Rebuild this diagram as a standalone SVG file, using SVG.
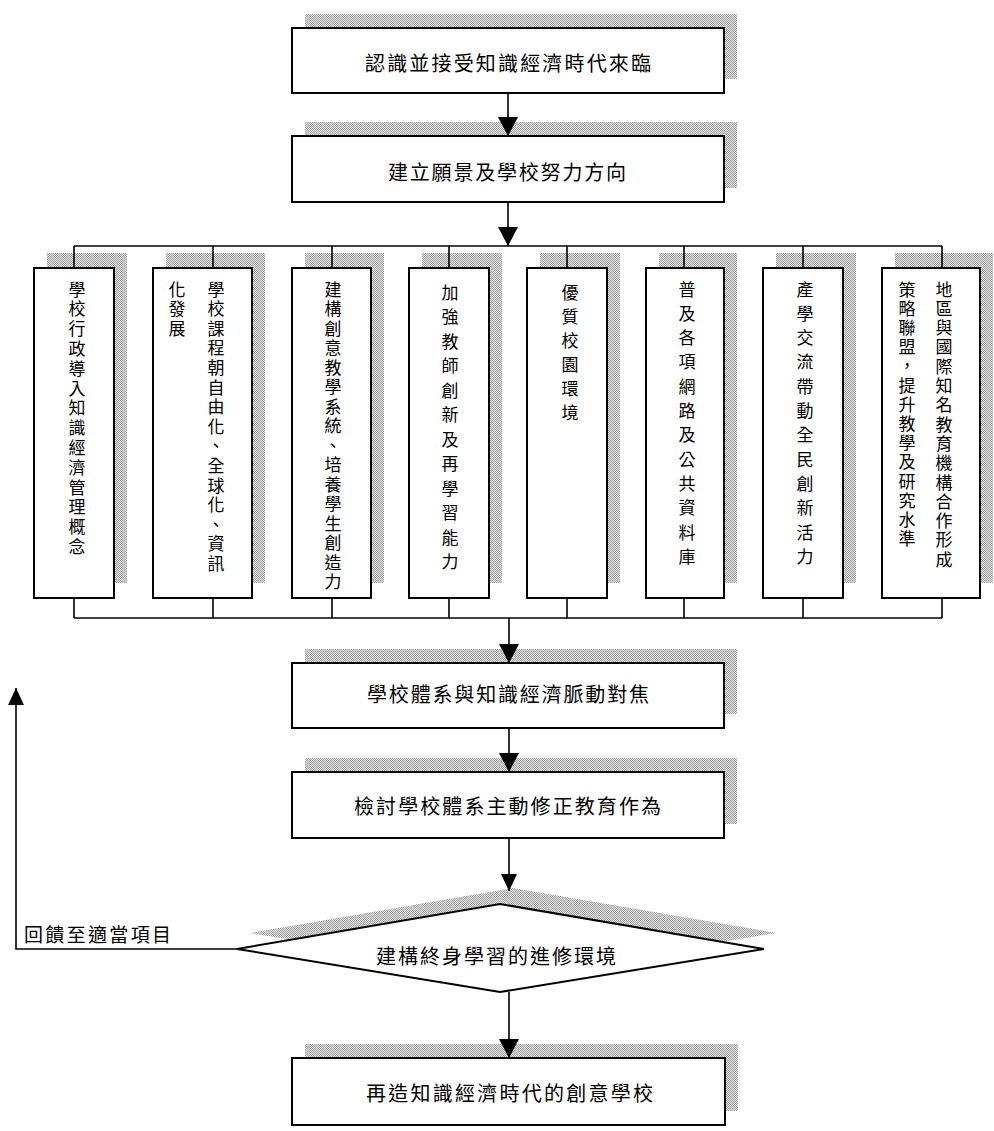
<svg xmlns="http://www.w3.org/2000/svg" width="994" height="1131" viewBox="0 0 994 1131">
<defs>
<pattern id="dither" width="2" height="2" patternUnits="userSpaceOnUse">
<rect width="2" height="2" fill="#e6e6e6"/>
<rect width="1" height="1" fill="#a0a0a0"/>
<rect x="1" y="1" width="1" height="1" fill="#a0a0a0"/>
</pattern>
<marker id="arr" markerUnits="userSpaceOnUse" markerWidth="20" markerHeight="20" refX="19" refY="10" orient="auto">
<path d="M0,0 L19,10 L0,20 Z" fill="#000"/>
</marker>
<marker id="arrs" markerUnits="userSpaceOnUse" markerWidth="18" markerHeight="16" refX="17" refY="8" orient="auto">
<path d="M0,0 L17,8 L0,16 Z" fill="#000"/>
</marker>
</defs>
<style>
.sh{fill:url(#dither);stroke:none}
.bx{fill:#fff;stroke:#000;stroke-width:2}
.ln{fill:none;stroke:#000;stroke-width:1.6}
.t{font-family:"Noto Sans CJK TC","Noto Sans CJK SC",sans-serif;fill:#000;dominant-baseline:central}
.h{font-size:20px}
.v{font-size:17px;text-anchor:middle}
</style>
<rect width="994" height="1131" fill="#fff"/>

<g id="n1">
<rect class="sh" x="305" y="14" width="432" height="65"/>
<rect class="bx" x="292" y="28" width="432" height="65"/>
<text class="t h" x="365" y="62" textLength="286" lengthAdjust="spacing">認識並接受知識經濟時代來臨</text>
</g>
<g id="n2">
<rect class="sh" x="305" y="122" width="432" height="66"/>
<rect class="bx" x="292" y="136" width="432" height="66"/>
<text class="t h" x="388" y="171" textLength="238" lengthAdjust="spacing">建立願景及學校努力方向</text>
</g>

<g id="a1">
<rect class="sh" x="47" y="253" width="80" height="330"/>
<rect class="bx" x="34" y="268" width="80" height="330"/>
<text class="t v" x="77 77 77 77 77 77 77 77 77 77 77 77 77 77" y="288 307.8 327.6 347.4 367.2 387 406.8 426.6 446.4 466.2 486 505.8 525.6 545.4">學校行政導入知識經濟管理概念</text>
</g>
<g id="a2">
<rect class="sh" x="166" y="253" width="99" height="330"/>
<rect class="bx" x="153" y="268" width="99" height="330"/>
<text class="t v" x="216 216 216 216 216 216 216 216 216 216 216 216 216 216 216" y="288 307.6 327.2 346.8 366.4 386 405.6 425.2 444.8 464.4 484 503.6 523.2 542.8 562.4">學校課程朝自由化、全球化、資訊</text>
<text class="t v" x="177 177 177" y="288 307.6 327.2">化發展</text>
</g>
<g id="a3">
<rect class="sh" x="305" y="253" width="79" height="330"/>
<rect class="bx" x="292" y="268" width="79" height="330"/>
<text class="t v" x="333 333 333 333 333 333 333 333 333 333 333 333 333 333 333 333" y="288 307.5 327 346.5 366 385.5 405 424.5 444 463.5 483 502.5 522 541.5 561 580.5">建構創意教學系統、培養學生創造力</text>
</g>
<g id="a4">
<rect class="sh" x="422" y="253" width="80" height="330"/>
<rect class="bx" x="409" y="268" width="80" height="330"/>
<text class="t v" x="450 450 450 450 450 450 450 450 450 450 450 450" y="291 315.5 340 364.5 389 413.5 438 462.5 487 511.5 536 560.5">加強教師創新及再學習能力</text>
</g>
<g id="a5">
<rect class="sh" x="540" y="253" width="80" height="330"/>
<rect class="bx" x="527" y="268" width="80" height="330"/>
<text class="t v" x="570 570 570 570 570 570" y="291 315 339 363 387 411">優質校園環境</text>
</g>
<g id="a6">
<rect class="sh" x="659" y="253" width="78" height="330"/>
<rect class="bx" x="646" y="268" width="78" height="330"/>
<text class="t v" x="687 687 687 687 687 687 687 687 687 687 687 687" y="288 312.3 336.6 360.9 385.2 409.5 433.8 458.1 482.4 506.7 531 555.3">普及各項網路及公共資料庫</text>
</g>
<g id="a7">
<rect class="sh" x="776" y="253" width="80" height="330"/>
<rect class="bx" x="763" y="268" width="80" height="330"/>
<text class="t v" x="805 805 805 805 805 805 805 805 805 805 805 805" y="288 312.3 336.6 360.9 385.2 409.5 433.8 458.1 482.4 506.7 531 555.3">產學交流帶動全民創新活力</text>
</g>
<g id="a8">
<rect class="sh" x="895" y="253" width="98" height="330"/>
<rect class="bx" x="882" y="268" width="98" height="330"/>
<text class="t v" x="944 944 944 944 944 944 944 944 944 944 944 944 944 944 944" y="288 307.3 326.6 345.9 365.2 384.5 403.8 423.1 442.4 461.7 481 500.3 519.6 538.9 558.2">地區與國際知名教育機構合作形成</text>
<text class="t v" x="907 907 907 907 907 907 907 907 907 907 907 907 907 907" y="288 307.2 326.4 345.6 364.8 384 403.2 422.4 441.6 460.8 480 499.2 518.4 537.6">策略聯盟，提升教學及研究水準</text>
</g>

<g id="n3">
<rect class="sh" x="305" y="649" width="432" height="65"/>
<rect class="bx" x="292" y="663" width="432" height="65"/>
<text class="t h" x="367" y="693" textLength="282" lengthAdjust="spacing">學校體系與知識經濟脈動對焦</text>
</g>
<g id="n4">
<rect class="sh" x="305" y="758" width="432" height="66"/>
<rect class="bx" x="292" y="772" width="432" height="66"/>
<text class="t h" x="354" y="805" textLength="307" lengthAdjust="spacing">檢討學校體系主動修正教育作為</text>
</g>
<g id="n5">
<polygon class="sh" points="250,933 513,888 777,933 513,976"/>
<polygon class="bx" points="237,949 500,904 764,949 500,992"/>
<text class="t h" x="376" y="955" textLength="240" lengthAdjust="spacing">建構終身學習的進修環境</text>
</g>
<g id="n6">
<rect class="sh" x="305" y="1044" width="433" height="67"/>
<rect class="bx" x="292" y="1058" width="433" height="67"/>
<text class="t h" x="366" y="1092" textLength="287" lengthAdjust="spacing">再造知識經濟時代的創意學校</text>
</g>

<g id="connectors">
<line class="ln" x1="508" y1="93" x2="508" y2="136" marker-end="url(#arr)"/>
<line class="ln" x1="508" y1="202" x2="508" y2="246" marker-end="url(#arr)"/>
<line class="ln" x1="74" y1="246" x2="942" y2="246"/>
<path class="ln" d="M74,246V268 M213,246V268 M332,246V268 M449,246V268 M567,246V268 M684,246V268 M803,246V268 M942,246V268"/>
<path class="ln" d="M74,598V618 M213,598V618 M332,598V618 M449,598V618 M567,598V618 M684,598V618 M803,598V618 M942,598V618"/>
<line class="ln" x1="74" y1="618" x2="942" y2="618"/>
<line class="ln" x1="509" y1="618" x2="509" y2="663" marker-end="url(#arr)"/>
<line class="ln" x1="509" y1="728" x2="509" y2="772" marker-end="url(#arr)"/>
<line class="ln" x1="509" y1="838" x2="509" y2="891" marker-end="url(#arrs)"/>
<line class="ln" x1="509" y1="992" x2="509" y2="1058" marker-end="url(#arr)"/>
<polyline class="ln" points="237,949 16,949 16,688" marker-end="url(#arrs)"/>
<text class="t h" x="24" y="933" textLength="147" lengthAdjust="spacing" style="font-size:19px">回饋至適當項目</text>
</g>
</svg>
